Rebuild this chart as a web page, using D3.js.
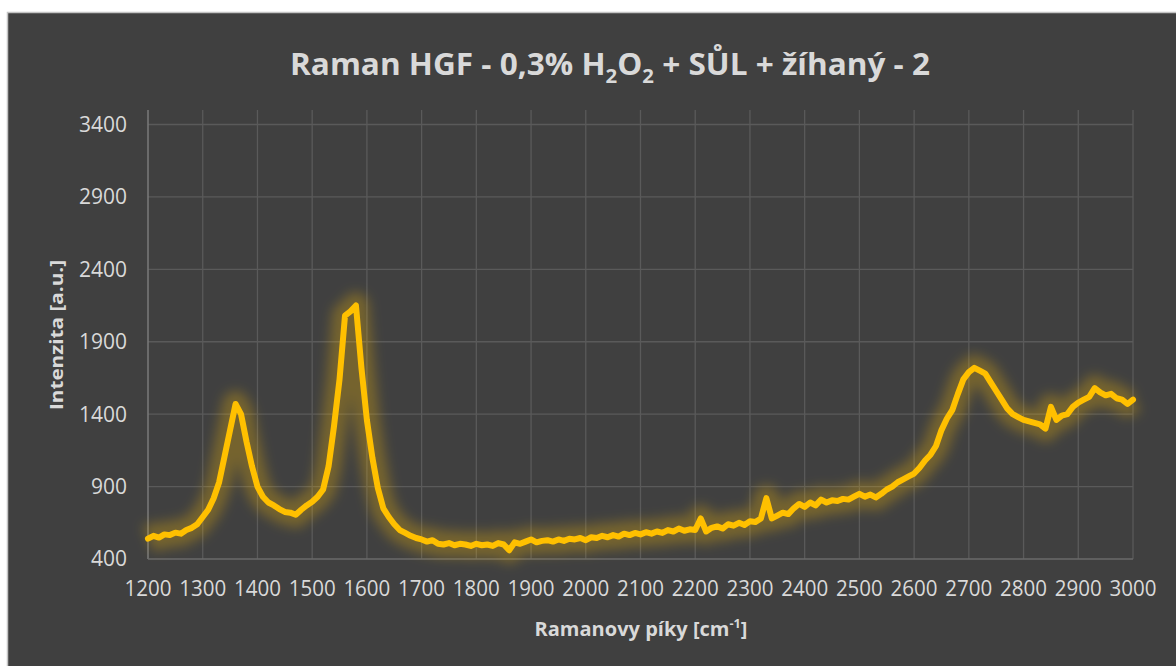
<!DOCTYPE html>
<html>
<head>
<meta charset="utf-8">
<script src="https://cdn.jsdelivr.net/npm/d3@7"></script>
<style>
    body { margin: 0; background: #ffffff; }
    text { font-family: "Open Sans", sans-serif; fill: #d9d9d9; }
</style>
</head>
<body>
<div id="chart"></div>
<script>
// Raman shift [cm-1], every 10 cm-1
const shifts = [
    1200, 1210, 1220, 1230, 1240, 1250, 1260, 1270, 1280, 1290,
    1300, 1310, 1320, 1330, 1340, 1350, 1360, 1370, 1380, 1390,
    1400, 1410, 1420, 1430, 1440, 1450, 1460, 1470, 1480, 1490,
    1500, 1510, 1520, 1530, 1540, 1550, 1560, 1570, 1580, 1590,
    1600, 1610, 1620, 1630, 1640, 1650, 1660, 1670, 1680, 1690,
    1700, 1710, 1720, 1730, 1740, 1750, 1760, 1770, 1780, 1790,
    1800, 1810, 1820, 1830, 1840, 1850, 1860, 1870, 1880, 1890,
    1900, 1910, 1920, 1930, 1940, 1950, 1960, 1970, 1980, 1990,
    2000, 2010, 2020, 2030, 2040, 2050, 2060, 2070, 2080, 2090,
    2100, 2110, 2120, 2130, 2140, 2150, 2160, 2170, 2180, 2190,
    2200, 2210, 2220, 2230, 2240, 2250, 2260, 2270, 2280, 2290,
    2300, 2310, 2320, 2330, 2340, 2350, 2360, 2370, 2380, 2390,
    2400, 2410, 2420, 2430, 2440, 2450, 2460, 2470, 2480, 2490,
    2500, 2510, 2520, 2530, 2540, 2550, 2560, 2570, 2580, 2590,
    2600, 2610, 2620, 2630, 2640, 2650, 2660, 2670, 2680, 2690,
    2700, 2710, 2720, 2730, 2740, 2750, 2760, 2770, 2780, 2790,
    2800, 2810, 2820, 2830, 2840, 2850, 2860, 2870, 2880, 2890,
    2900, 2910, 2920, 2930, 2940, 2950, 2960, 2970, 2980, 2990,
    3000
];

const intensity = [
    540, 560, 548, 570, 565, 582, 575, 600, 615, 640,
    690, 740, 820, 930, 1110, 1290, 1470, 1400, 1210, 1040,
    900, 830, 790, 770, 745, 725, 720, 705, 740, 770,
    795, 830, 880, 1040, 1320, 1640, 2080, 2110, 2150, 1720,
    1360, 1100, 890, 750, 690, 640, 600, 580, 560, 545,
    535, 520, 530, 505, 500, 510, 495, 505, 500, 490,
    505, 495, 500, 490, 510, 500, 460, 515, 505, 520,
    535, 515, 525, 530, 520, 535, 525, 540, 535, 545,
    530, 550, 545, 560, 550, 565, 555, 575, 565, 580,
    570, 585, 575, 590, 580, 600, 590, 610, 595, 605,
    600, 680, 590, 615, 625, 610, 640, 630, 650, 635,
    660, 655, 680, 820, 680, 700, 720, 710, 750, 780,
    760, 790, 770, 810, 790, 805, 800, 815, 810, 830,
    850, 830, 845, 825, 850, 880, 900, 930, 950, 970,
    990, 1030, 1080, 1120, 1180, 1290, 1370, 1430, 1540, 1640,
    1690, 1720, 1700, 1680, 1620, 1560, 1500, 1440, 1400, 1380,
    1360, 1350, 1340, 1330, 1300, 1450, 1360, 1390, 1400, 1450,
    1480, 1500, 1520, 1580, 1550, 1530, 1540, 1510, 1500, 1470,
    1500
];

const xTicks = [1200, 1300, 1400, 1500, 1600, 1700, 1800, 1900, 2000, 2100,
    2200, 2300, 2400, 2500, 2600, 2700, 2800, 2900, 3000];
const yTicks = [400, 900, 1400, 1900, 2400, 2900, 3400];

const drawChart = id => {
    const width = 1176;
    const height = 666;
    const plot = { left: 148, right: 1133, top: 110, bottom: 559 };

    const svg = d3.select(id)
        .append("svg")
        .attr("width", width)
        .attr("height", height);

    // soft glow round the line
    const defs = svg.append("defs");
    defs.append("filter")
        .attr("id", "glow")
        .attr("x", "-10%").attr("y", "-20%")
        .attr("width", "120%").attr("height", "140%")
        .append("feGaussianBlur")
        .attr("stdDeviation", 6);

    svg.append("rect")
        .attr("x", 7.5)
        .attr("y", 12.5)
        .attr("width", width + 10)
        .attr("height", height + 10)
        .attr("fill", "#404040")
        .attr("stroke", "#c4c4c4")
        .attr("stroke-width", 1.5);

    const x = d3.scaleLinear().domain([1200, 3000]).range([plot.left, plot.right]);
    const y = d3.scaleLinear().domain([400, 3500]).range([plot.bottom, plot.top]);

    const grid = svg.append("g");
    grid.selectAll(".vgrid")
        .data(xTicks.slice(1))
        .enter().append("line")
        .attr("x1", d => x(d)).attr("x2", d => x(d))
        .attr("y1", plot.top).attr("y2", plot.bottom)
        .attr("stroke", "#5a5a5a")
        .attr("stroke-width", 1.3);
    grid.selectAll(".hgrid")
        .data(yTicks.slice(1))
        .enter().append("line")
        .attr("x1", plot.left).attr("x2", plot.right)
        .attr("y1", d => y(d)).attr("y2", d => y(d))
        .attr("stroke", "#5a5a5a")
        .attr("stroke-width", 1.3);

    // axis lines
    svg.append("line")
        .attr("x1", plot.left).attr("x2", plot.left)
        .attr("y1", plot.top).attr("y2", plot.bottom)
        .attr("stroke", "#7a7a7a").attr("stroke-width", 1.5);
    svg.append("line")
        .attr("x1", plot.left).attr("x2", plot.right)
        .attr("y1", plot.bottom).attr("y2", plot.bottom)
        .attr("stroke", "#6a6a6a").attr("stroke-width", 1.5);

    svg.append("g").selectAll("text")
        .data(yTicks)
        .enter().append("text")
        .attr("x", 127)
        .attr("y", d => y(d))
        .attr("dy", "0.35em")
        .attr("text-anchor", "end")
        .attr("font-size", 21)
        .text(d => d);

    svg.append("g").selectAll("text")
        .data(xTicks)
        .enter().append("text")
        .attr("x", d => x(d))
        .attr("y", 596)
        .attr("text-anchor", "middle")
        .attr("font-size", 21)
        .attr("textLength", 47)
        .attr("lengthAdjust", "spacingAndGlyphs")
        .text(d => d);

    const points = shifts.map((s, i) => [s, intensity[i]]);
    const line = d3.line()
        .x(d => x(d[0]))
        .y(d => y(d[1]));

    svg.append("path")
        .attr("d", line(points))
        .attr("fill", "none")
        .attr("stroke", "#ffc000")
        .attr("stroke-opacity", 0.28)
        .attr("stroke-width", 26)
        .attr("stroke-linejoin", "round")
        .attr("filter", "url(#glow)");

    svg.append("path")
        .attr("d", line(points))
        .attr("fill", "none")
        .attr("stroke", "#ffc000")
        .attr("stroke-width", 6)
        .attr("stroke-linejoin", "round")
        .attr("stroke-linecap", "round");

    // title with subscripts
    const title = svg.append("text")
        .attr("x", 610)
        .attr("y", 75)
        .attr("text-anchor", "middle")
        .attr("font-size", 31)
        .attr("font-weight", "bold")
        .attr("textLength", 640)
        .attr("lengthAdjust", "spacingAndGlyphs");
    title.append("tspan").text("Raman HGF - 0,3% H");
    title.append("tspan").attr("font-size", 20).attr("dy", 8).text("2");
    title.append("tspan").attr("dy", -8).text("O");
    title.append("tspan").attr("font-size", 20).attr("dy", 8).text("2");
    title.append("tspan").attr("dy", -8).text(" + SŮL + žíhaný - 2");

    svg.append("text")
        .attr("transform", "translate(63,335) rotate(-90)")
        .attr("text-anchor", "middle")
        .attr("font-size", 18)
        .attr("font-weight", "bold")
        .attr("textLength", 150)
        .attr("lengthAdjust", "spacingAndGlyphs")
        .text("Intenzita [a.u.]");

    const xTitle = svg.append("text")
        .attr("x", 641)
        .attr("y", 636)
        .attr("text-anchor", "middle")
        .attr("font-size", 19)
        .attr("font-weight", "bold")
        .attr("textLength", 213)
        .attr("lengthAdjust", "spacingAndGlyphs");
    xTitle.append("tspan").text("Ramanovy píky [cm");
    xTitle.append("tspan").attr("font-size", 12).attr("dy", -8).text("-1");
    xTitle.append("tspan").attr("dy", 8).text("]");
};

drawChart("#chart");
</script>
</body>
</html>
